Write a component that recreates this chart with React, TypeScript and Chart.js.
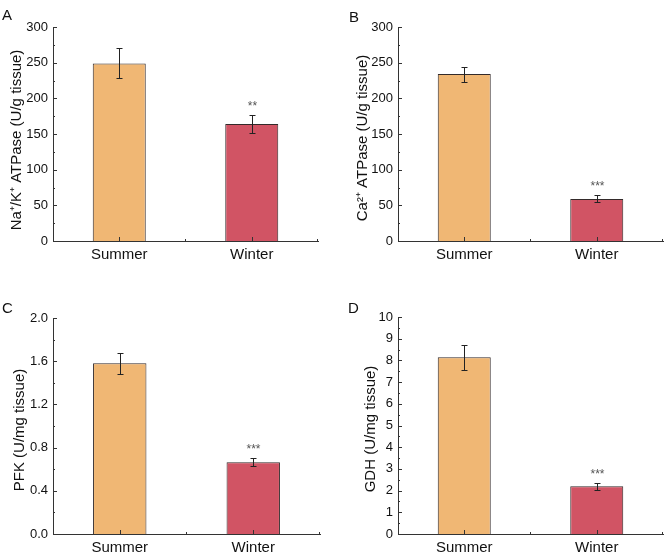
import React, { useEffect, useRef } from "react";
import { Chart, registerables } from "chart.js";

Chart.register(...registerables);

const categories = ["Summer", "Winter"];

const naKMeans = [249, 164];
const naKErrors = [21, 13];
const naKSig = ["", "**"];

const caMeans = [234, 59];
const caErrors = [10.5, 5];
const caSig = ["", "***"];

const pfkMeans = [1.58, 0.665];
const pfkErrors = [0.095, 0.037];
const pfkSig = ["", "***"];

const gdhMeans = [8.15, 2.2];
const gdhErrors = [0.57, 0.16];
const gdhSig = ["", "***"];

const barColors = ["#F0B774", "#D15464"];
const FONT = "'Liberation Sans', Arial, Helvetica, sans-serif";
const AXIS = "#333333";

type PanelProps = {
  letter: string;
  title: string;
  means: number[];
  errors: number[];
  sig: string[];
  max: number;
  step: number;
  minor: number;
  decimals: number;
  left: number;
  top: number;
  w: number;
  h: number;
  area: { l: number; r: number; t: number; b: number };
  titlePos: { x: number; y: number };
  letterPos: { x: number; y: number };
};

function Panel(p: PanelProps) {
  const ref = useRef<HTMLCanvasElement | null>(null);
  useEffect(() => {
    document.body.style.margin = "0";
    const canvas = ref.current;
    if (!canvas) return;
    const overlay = {
      id: "overlay" + p.letter,
      afterDatasetsDraw(chart: any) {
        const ctx = chart.ctx;
        const y = chart.scales.y;
        const x = chart.scales.x;
        const ca = chart.chartArea;
        ctx.save();
        // y ticks (inward)
        ctx.strokeStyle = AXIS;
        ctx.lineWidth = 1;
        const nMinor = Math.round(p.max / p.minor);
        for (let i = 0; i <= nMinor; i++) {
          const v = i * p.minor;
          const py = Math.round(y.getPixelForValue(v)) + 0.5;
          const isMajor = Math.abs(v / p.step - Math.round(v / p.step)) < 1e-6;
          const len = isMajor ? 4 : 2;
          ctx.beginPath();
          ctx.moveTo(ca.left, py);
          ctx.lineTo(ca.left + len, py);
          ctx.stroke();
        }
        // x ticks (inward)
        for (let i = 0; i < categories.length; i++) {
          const px = Math.round(x.getPixelForValue(i)) + 0.5;
          ctx.beginPath();
          ctx.moveTo(px, ca.bottom);
          ctx.lineTo(px, ca.bottom - 4);
          ctx.stroke();
        }
        const mids = [ca.left + (ca.right - ca.left) / 2, ca.right];
        for (const m of mids) {
          const px = Math.round(m) - 0.5;
          ctx.beginPath();
          ctx.moveTo(px, ca.bottom);
          ctx.lineTo(px, ca.bottom - 2);
          ctx.stroke();
        }
        // error bars and significance
        ctx.strokeStyle = "#222222";
        for (let i = 0; i < p.means.length; i++) {
          const cx = Math.round(x.getPixelForValue(i)) + 0.5;
          const yt = Math.round(y.getPixelForValue(p.means[i] + p.errors[i])) + 0.5;
          const yb = Math.round(y.getPixelForValue(p.means[i] - p.errors[i])) + 0.5;
          ctx.beginPath();
          ctx.moveTo(cx, yt);
          ctx.lineTo(cx, yb);
          ctx.moveTo(cx - 3, yt);
          ctx.lineTo(cx + 3, yt);
          ctx.moveTo(cx - 3, yb);
          ctx.lineTo(cx + 3, yb);
          ctx.stroke();
          if (p.sig[i]) {
            ctx.fillStyle = "#555555";
            ctx.font = "12px " + FONT;
            ctx.textAlign = "center";
            ctx.textBaseline = "middle";
            ctx.fillText(p.sig[i], cx, yt - 9);
          }
        }
        // y-axis title
        ctx.save();
        ctx.translate(p.titlePos.x, p.titlePos.y);
        ctx.rotate(-Math.PI / 2);
        ctx.fillStyle = "#111111";
        ctx.font = "15px " + FONT;
        ctx.textAlign = "center";
        ctx.textBaseline = "middle";
        ctx.fillText(p.title, 0, 0);
        ctx.restore();
        // panel letter
        ctx.fillStyle = "#111111";
        ctx.font = "15px " + FONT;
        ctx.textAlign = "left";
        ctx.textBaseline = "top";
        ctx.fillText(p.letter, p.letterPos.x, p.letterPos.y);
        ctx.restore();
      },
    };
    const chart = new Chart(canvas, {
      type: "bar",
      data: {
        labels: categories,
        datasets: [
          {
            data: p.means,
            backgroundColor: barColors,
            borderColor: "#332a2a",
            borderWidth: 1,
            barPercentage: 0.4,
            categoryPercentage: 1,
          },
        ],
      },
      options: {
        responsive: false,
        animation: false,
        events: [],
        layout: {
          padding: { left: 0, top: p.area.t, right: p.w - p.area.r, bottom: 0 },
        },
        plugins: { legend: { display: false }, tooltip: { enabled: false } },
        scales: {
          x: {
            offset: true,
            grid: { display: false, drawTicks: false },
            border: { display: true, color: AXIS, width: 1 },
            ticks: { color: "#111111", font: { family: FONT, size: 15 }, padding: 5 },
            afterFit: (s: any) => {
              s.height = p.h - p.area.b;
            },
          },
          y: {
            min: 0,
            max: p.max,
            grid: { display: false, drawTicks: false },
            border: { display: true, color: AXIS, width: 1 },
            ticks: {
              stepSize: p.step,
              color: "#111111",
              padding: 5,
              font: { family: FONT, size: 13 },
              callback: (v: any) => Number(v).toFixed(p.decimals),
            },
            title: { display: false },
            afterFit: (s: any) => {
              s.width = p.area.l;
            },
          },
        },
      },
      plugins: [overlay],
    } as any);
    return () => chart.destroy();
  }, []);
  return (
    <canvas
      ref={ref}
      width={p.w}
      height={p.h}
      style={{ position: "absolute", left: p.left, top: p.top, width: p.w, height: p.h, display: "block" }}
    />
  );
}

export default function App() {
  return (
    <div style={{ position: "relative", width: 669, height: 558, background: "#ffffff", overflow: "hidden" }}>
      <Panel
        letter="A"
        title="Na⁺/K⁺ ATPase (U/g tissue)"
        means={naKMeans}
        errors={naKErrors}
        sig={naKSig}
        max={300}
        step={50}
        minor={25}
        decimals={0}
        left={0}
        top={0}
        w={334}
        h={279}
        area={{ l: 53, r: 318, t: 27, b: 241 }}
        titlePos={{ x: 17, y: 140 }}
        letterPos={{ x: 2, y: 8 }}
      />
      <Panel
        letter="B"
        title="Ca²⁺ ATPase (U/g tissue)"
        means={caMeans}
        errors={caErrors}
        sig={caSig}
        max={300}
        step={50}
        minor={25}
        decimals={0}
        left={334}
        top={0}
        w={335}
        h={279}
        area={{ l: 64, r: 329, t: 27, b: 241 }}
        titlePos={{ x: 28.5, y: 138 }}
        letterPos={{ x: 15, y: 10 }}
      />
      <Panel
        letter="C"
        title="PFK (U/mg tissue)"
        means={pfkMeans}
        errors={pfkErrors}
        sig={pfkSig}
        max={2}
        step={0.4}
        minor={0.2}
        decimals={1}
        left={0}
        top={279}
        w={334}
        h={279}
        area={{ l: 53, r: 320, t: 39, b: 255 }}
        titlePos={{ x: 20, y: 151 }}
        letterPos={{ x: 2, y: 22 }}
      />
      <Panel
        letter="D"
        title="GDH (U/mg tissue)"
        means={gdhMeans}
        errors={gdhErrors}
        sig={gdhSig}
        max={10}
        step={1}
        minor={0.5}
        decimals={0}
        left={334}
        top={279}
        w={335}
        h={279}
        area={{ l: 64, r: 329, t: 38, b: 255 }}
        titlePos={{ x: 37, y: 150 }}
        letterPos={{ x: 14, y: 22 }}
      />
    </div>
  );
}
